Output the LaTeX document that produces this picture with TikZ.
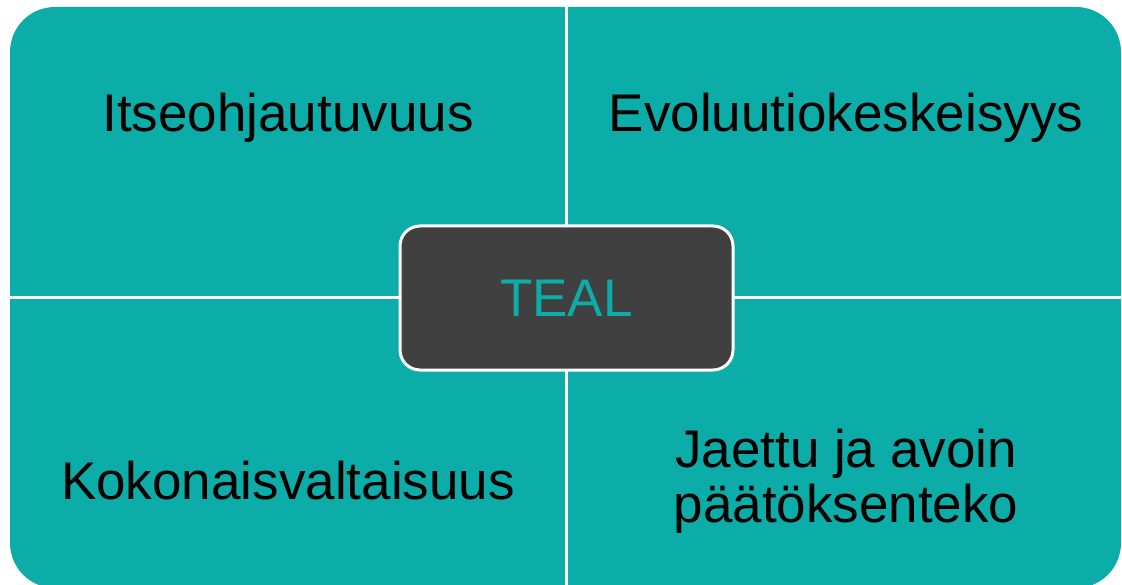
\documentclass[tikz,border=0pt]{standalone}
\usepackage{fontspec}
\setmainfont{Liberation Sans}
\definecolor{tealfill}{RGB}{12,173,168}
\definecolor{darkbox}{RGB}{64,64,64}
\begin{document}
\begin{tikzpicture}[x=1pt,y=-1pt,
  quadtext/.style={font=\fontsize{53}{55}\selectfont, text=black, align=center, inner sep=0pt},
  hubbox/.style={draw=white, line width=3pt, fill=darkbox, rounded corners=20pt,
    minimum width=333pt, minimum height=144pt, inner sep=0pt,
    text=tealfill, font=\fontsize{53}{57}\selectfont},
  divider/.style={draw=white, line width=2.5pt}]
\useasboundingbox (0,0) rectangle (1122,585);
\clip (0,0) rectangle (1122,585);
% teal panel with rounded outer corners
\fill[tealfill, rounded corners=45pt] (10,7) rectangle (1121,588);
% dividers between the four quadrants
\coordinate (vtop) at (566.5,7);
\coordinate (vbot) at (566.5,588);
\coordinate (hleft) at (10,297.5);
\coordinate (hright) at (1121,297.5);
\draw[divider] (vtop) -- (vbot);
\draw[divider] (hleft) -- (hright);
% quadrant labels
\node[quadtext] (q1) at (288,118) {Itseohjautuvuus};
\node[quadtext] (q2) at (846,118) {Evoluutiokeskeisyys};
\node[quadtext] (q3) at (288,481) {Kokonaisvaltaisuus};
\node[quadtext] (q4) at (846,481) {Jaettu ja avoin\\päätöksenteko};
% central box
\node[hubbox] (hub) at (566.5,298) {TEAL};
\end{tikzpicture}
\end{document}
